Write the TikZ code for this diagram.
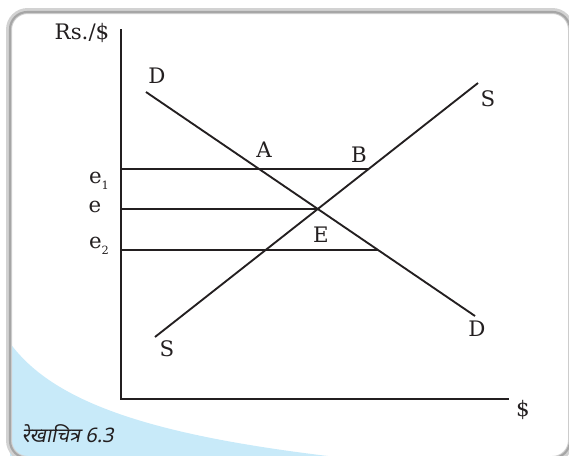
\documentclass[tikz,border=0pt]{standalone}
\usepackage{fontspec}
\setmainfont{DejaVu Serif}
\newfontfamily\hindifont[Script=Devanagari,FakeSlant=0.2]{Noto Sans}
\definecolor{ink}{RGB}{35,31,32}
\definecolor{panel}{RGB}{200,234,249}
\newcommand{\lowsub}[1]{\raisebox{-0.55ex}{\fontsize{8.5}{9}\selectfont #1}}
\tikzset{every picture/.style={line width=0.75pt}}
\tikzset{
  schedule/.style={color=ink, line width=1.4pt},
  rate/.style={color=ink},
  lbl/.style={inner sep=0.75pt, text=ink, font=\fontsize{16}{18}\selectfont},
}

\begin{document}
\begin{tikzpicture}[x=0.75pt,y=0.75pt,yscale=-1,xscale=1]
\path (0,0) rectangle (569,455); %set diagram size

\begin{scope}
\clip (0,0) rectangle (569,455);
%Shape: Blue Corner
\fill [panel] (10,343) .. controls (55,405) and (160,437) .. (345,458) -- (10,458) -- cycle;
%Shape: Frame
\draw [color=gray!35, line width=4.5pt, rounded corners=14] (9,11) rectangle (571,459);
\draw [color=gray!70, line width=1.6pt, rounded corners=13] (10,12) rectangle (570,458);
\end{scope}

% Points
\coordinate (O) at (121,399);
\coordinate (Ytop) at (121,29);
\coordinate (Xend) at (509,399);
\coordinate (D1) at (146,92);
\coordinate (D2) at (475,316);
\coordinate (S1) at (155,337);
\coordinate (S2) at (478,83);
\coordinate (e1y) at (121,169);
\coordinate (ey) at (121,209);
\coordinate (e2y) at (121,250);
\coordinate (Bpt) at (368.5,169);
\coordinate (Ept) at (317.5,209);
\coordinate (Cpt) at (377.7,250);

%Straight Lines: axes
\draw [color=ink, line width=1.7pt] (Ytop) -- (O) -- (Xend);
%Straight Lines: rates
\draw [rate, line width=2pt] (e1y) -- (Bpt);
\draw [rate, line width=1.5pt] (ey) -- (Ept);
\draw [rate, line width=1.1pt] (e2y) -- (Cpt);
%Straight Lines: demand and supply
\draw [schedule] (D1) -- (D2);
\draw [schedule] (S1) -- (S2);

% Text Node
\node [lbl] (ylab) at (82,33) {Rs./\$};
% Text Node
\node [lbl] (xlab) at (523,410) {\$};
% Text Node
\node [lbl] (Dtop) at (157,76) {D};
% Text Node
\node [lbl] (Dbot) at (477,329) {D};
% Text Node
\node [lbl] (Stop) at (488,99) {S};
% Text Node
\node [lbl] (Sbot) at (167,349) {S};
% Text Node
\node [lbl] (A) at (264,150) {A};
% Text Node
\node [lbl] (B) at (359,155) {B};
% Text Node
\node [lbl] (E) at (321,235) {E};
% Text Node
\node [lbl] (e1) at (99,181) {e\lowsub{1}};
% Text Node
\node [lbl] (e) at (95,207) {e};
% Text Node
\node [lbl] (e2) at (99,246) {e\lowsub{2}};
% Text Node
\node [lbl, anchor=west, font=\fontsize{15}{17}\selectfont] (fig) at (20,434) {\hindifont रेखाचित्र 6.3};

\end{tikzpicture}
\end{document}
